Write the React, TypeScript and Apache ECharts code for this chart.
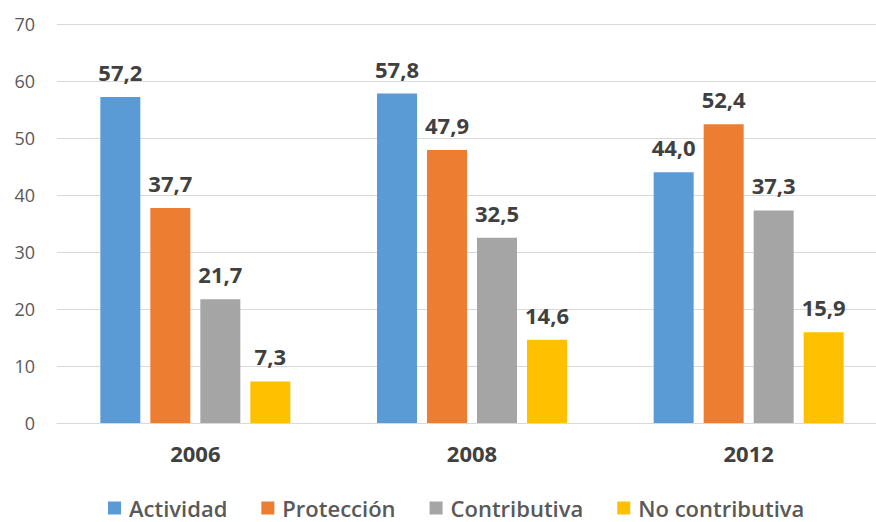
import React, { useEffect, useRef } from "react";
import * as echarts from "echarts";

const categories = ["2006", "2008", "2012"];
const seriesNames = ["Actividad", "Protección", "Contributiva", "No contributiva"];
const actividad = [57.2, 57.8, 44.0];
const proteccion = [37.7, 47.9, 52.4];
const contributiva = [21.7, 32.5, 37.3];
const noContributiva = [7.3, 14.6, 15.9];
const colors = ["#5B9BD5", "#ED7D31", "#A5A5A5", "#FFC000"];

const FONT = "'Open Sans', 'Noto Sans', sans-serif";

export default function App() {
  const ref = useRef<HTMLDivElement>(null);

  useEffect(() => {
    document.body.style.margin = "0";
    if (!ref.current) return;
    const chart = echarts.init(ref.current, undefined, { renderer: "svg" });
    const values = [actividad, proteccion, contributiva, noContributiva];

    chart.setOption({
      animation: false,
      backgroundColor: "#ffffff",
      textStyle: { fontFamily: FONT },
      grid: {
        left: 57,
        top: 24,
        width: 830,
        height: 399,
        containLabel: false,
        outerBoundsMode: "none",
      },
      legend: {
        left: 108,
        top: 497,
        padding: 0,
        icon: "rect",
        itemWidth: 13,
        itemHeight: 13,
        itemGap: 34,
        data: seriesNames,
        textStyle: {
          fontFamily: FONT,
          fontSize: 22,
          fontWeight: 600,
          color: "#595959",
          padding: [0, 0, 0, 3],
        },
      },
      xAxis: {
        type: "category",
        data: categories,
        axisLine: { show: true, lineStyle: { color: "#D9D9D9", width: 1 } },
        axisTick: { show: false },
        axisLabel: {
          margin: 19,
          fontFamily: FONT,
          fontSize: 22,
          fontWeight: "bold",
          color: "#404040",
        },
      },
      yAxis: {
        type: "value",
        min: 0,
        max: 70,
        interval: 10,
        axisLine: { show: false },
        axisTick: { show: false },
        splitLine: { lineStyle: { color: "#D9D9D9", width: 1 } },
        axisLabel: {
          margin: 22,
          fontFamily: FONT,
          fontSize: 18,
          color: "#595959",
        },
      },
      series: seriesNames.map((name, i) => ({
        name,
        type: "bar",
        data: values[i],
        barWidth: 40,
        barGap: "25%",
        itemStyle: { color: colors[i] },
        label: {
          show: true,
          position: "top",
          distance: 14,
          fontFamily: FONT,
          fontSize: 22,
          lineHeight: 22,
          fontWeight: "bold",
          color: "#404040",
          formatter: (p: any) => Number(p.value).toFixed(1).replace(".", ","),
        },
      })),
    });

    return () => chart.dispose();
  }, []);

  return <div ref={ref} style={{ width: 876, height: 522 }} />;
}
